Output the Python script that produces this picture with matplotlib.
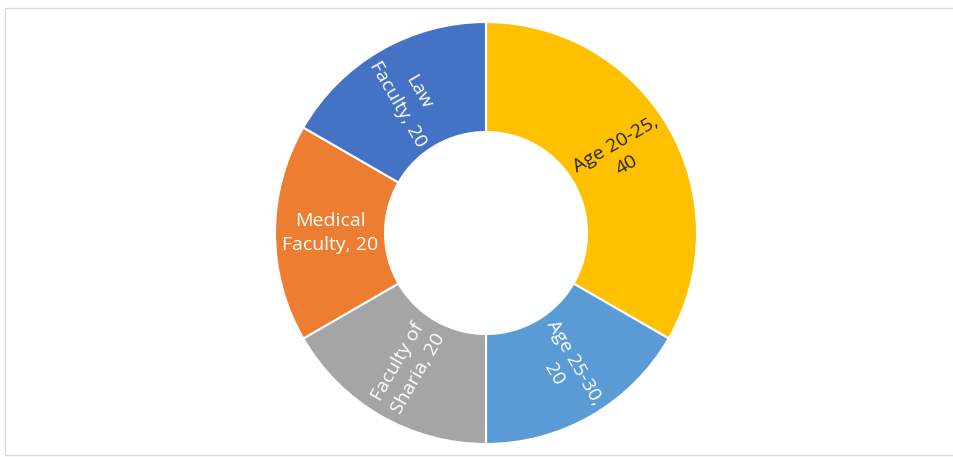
import matplotlib.pyplot as plt
from matplotlib.patches import Rectangle
import numpy as np

labels = ["Age 20-25,\n40", "Age 25-30,\n20", "Faculty of\nSharia, 20", "Medical\nFaculty, 20", "Law\nFaculty, 20"]
values = [40, 20, 20, 20, 20]
colors = ["#FFC000", "#5B9BD5", "#A5A5A5", "#ED7D31", "#4472C4"]
text_colors = ["#262626", "white", "white", "white", "white"]

W, H = 954, 457
fig = plt.figure(figsize=(W / 100, H / 100), dpi=100)
ax = fig.add_axes([0, 0, 1, 1])

# chart area frame
ax.add_patch(Rectangle((5, 2), W - 5, H - 10, fill=False, edgecolor="#d9d9d9", lw=1))

cx, cy = 486, H - 233
r_out = 211
r_in = 101
wedges, _ = ax.pie(values, colors=colors, startangle=90, counterclock=False,
                   center=(cx, cy), radius=r_out, frame=True,
                   wedgeprops=dict(width=r_out - r_in, edgecolor="white", linewidth=1.5))
ax.set_xlim(0, W)
ax.set_ylim(0, H)
ax.set_aspect("equal")
ax.axis("off")

r_lab = (r_out + r_in) / 2
for w, lab, tc in zip(wedges, labels, text_colors):
    mid = (w.theta1 + w.theta2) / 2
    x = cx + r_lab * np.cos(np.radians(mid))
    y = cy + r_lab * np.sin(np.radians(mid))
    rot = mid
    if np.cos(np.radians(mid)) < -1e-6:
        rot = mid - 180
    rot = (rot + 180) % 360 - 180
    ax.text(x, y, lab, ha="center", va="center", rotation=rot, rotation_mode="anchor",
            color=tc, fontsize=14, family="Open Sans", linespacing=1.4)

fig.savefig("out.png", dpi=100)
